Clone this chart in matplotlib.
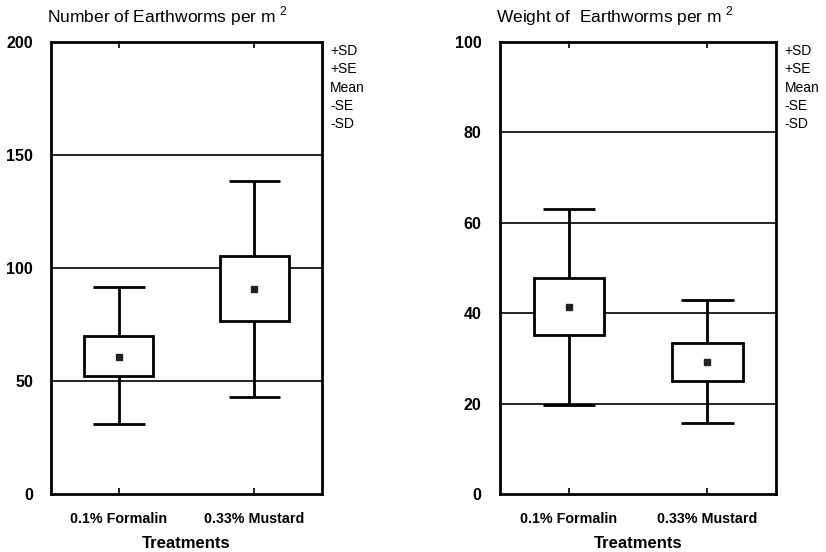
import matplotlib
matplotlib.use("Agg")
import matplotlib.pyplot as plt
from matplotlib.patches import Rectangle

plt.rcParams['font.family'] = ['Liberation Sans', 'DejaVu Sans']
plt.rcParams['mathtext.fontset'] = 'custom'
plt.rcParams['mathtext.rm'] = 'Liberation Sans'

# Treatments
treatments = ['0.1% Formalin', '0.33% Mustard']

# Number of earthworms per m2
number_plus_sd = [91.5, 138.5]
number_plus_se = [70, 105.5]
number_mean = [60.5, 90.5]
number_minus_se = [52, 76.5]
number_minus_sd = [31, 43]

# Weight of earthworms per m2
weight_plus_sd = [63, 43]
weight_plus_se = [47.8, 33.3]
weight_mean = [41.3, 29.3]
weight_minus_se = [35.1, 25.1]
weight_minus_sd = [19.8, 15.8]

legend_lines = ['+SD', '+SE', 'Mean', '-SE', '-SD']


def draw_panel(ax, title, plus_sd, plus_se, mean, minus_se, minus_sd, ymax, yticks):
    xs = [1, 3]
    ax.set_xlim(0, 4)
    ax.set_ylim(0, ymax)
    for y in yticks[1:-1]:
        ax.axhline(y, color='black', lw=1.2, zorder=1)
    for i, x in enumerate(xs):
        # whiskers + caps
        ax.vlines(x, minus_sd[i], plus_sd[i], color='black', lw=2, zorder=2)
        ax.hlines([minus_sd[i], plus_sd[i]], x - 0.38, x + 0.38, color='black', lw=2, zorder=2)
        # SE box
        ax.add_patch(Rectangle((x - 0.51, minus_se[i]), 1.02, plus_se[i] - minus_se[i],
                               facecolor='white', edgecolor='black', lw=2, zorder=3))
        ax.plot(x, mean[i], 's', color='#222222', ms=4, zorder=4)
    ax.set_xticks(xs)
    ax.set_xticklabels(treatments, fontsize=10.3, fontweight='bold')
    ax.tick_params(axis='x', direction='in', top=True, length=4, width=1.2, pad=13)
    ax.set_yticks(yticks)
    ax.set_yticklabels([str(t) for t in yticks], fontsize=11.5, fontweight='bold')
    ax.tick_params(axis='y', length=0, pad=13)
    for s in ax.spines.values():
        s.set_linewidth(2)
    ax.set_xlabel('Treatments', fontsize=12, fontweight='bold', labelpad=7)
    ax.text(-0.015, 1.03, title + ' $^2$', transform=ax.transAxes, fontsize=12.5,
            ha='left', va='bottom')
    for k, lab in enumerate(legend_lines):
        ax.text(1.03, 0.98 - k * 0.0405, lab, transform=ax.transAxes, fontsize=10,
                ha='left', va='center')


fig = plt.figure(figsize=(8.26, 5.52), dpi=100)
ax1 = fig.add_axes([0.062, 0.105, 0.328, 0.819])
ax2 = fig.add_axes([0.605, 0.105, 0.335, 0.819])

draw_panel(ax1, 'Number of Earthworms per m', number_plus_sd, number_plus_se, number_mean,
           number_minus_se, number_minus_sd, 200, [0, 50, 100, 150, 200])
draw_panel(ax2, 'Weight of  Earthworms per m', weight_plus_sd, weight_plus_se, weight_mean,
           weight_minus_se, weight_minus_sd, 100, [0, 20, 40, 60, 80, 100])

fig.savefig('out.png', dpi=100)
